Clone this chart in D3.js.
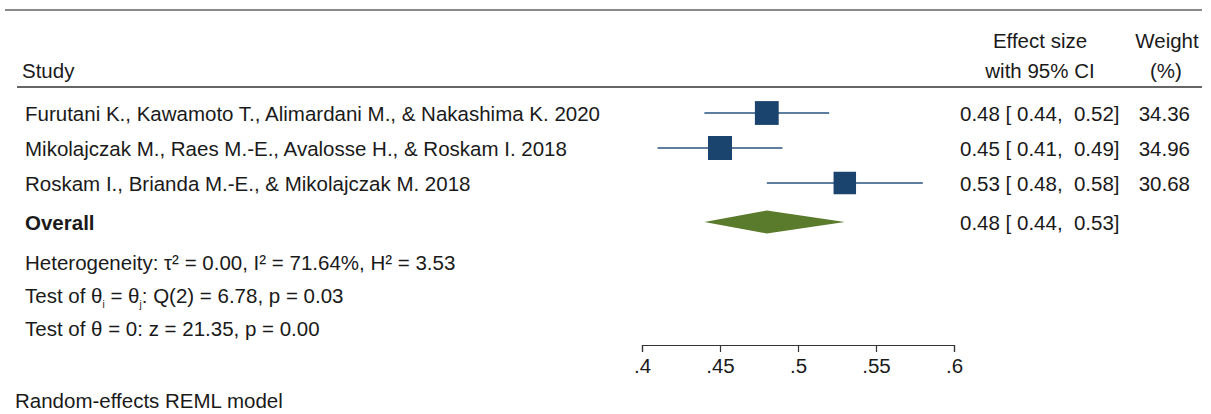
<!DOCTYPE html>
<html>
<head>
<meta charset="utf-8">
<script src="https://cdn.jsdelivr.net/npm/d3@7"></script>
<style>
  html, body { margin: 0; padding: 0; background: #fff; }
  svg { display: block; }
  text { font-family: "Liberation Sans", Arial, Helvetica, sans-serif; fill: #1a1a1a; }
</style>
</head>
<body>
<svg id="chart" width="1211" height="414"></svg>
<script>
// Study-level estimates (effect size, 95% CI bounds, weight %)
const studies = [
  "Furutani K., Kawamoto T., Alimardani M., & Nakashima K. 2020",
  "Mikolajczak M., Raes M.-E., Avalosse H., & Roskam I. 2018",
  "Roskam I., Brianda M.-E., & Mikolajczak M. 2018"
];
const effects = [0.48, 0.45, 0.53];
const lower   = [0.44, 0.41, 0.48];
const upper   = [0.52, 0.49, 0.58];
const weights = [34.36, 34.96, 30.68];

// Pooled random-effects estimate
const overallEffect = 0.48;
const overallLower  = 0.44;
const overallUpper  = 0.53;

const xTicks = [0.4, 0.45, 0.5, 0.55, 0.6];
const xTickLabels = [".4", ".45", ".5", ".55", ".6"];

const svg = d3.select("#chart");
const FS = 20.5;
const BASE = 7.5; // baseline offset from a row's centre line

const x = d3.scaleLinear().domain([0.4, 0.6]).range([642, 954]);
const rowY = d3.scalePoint().domain(d3.range(studies.length)).range([113, 183]);
const overallY = 222;

// square side driven by weight (area proportional to weight)
const side = d3.scaleSqrt().domain([0, d3.max(weights)]).range([0, 24]);

const fmt2 = d3.format(".2f");

// rules
svg.append("line").attr("x1", 5).attr("x2", 1202).attr("y1", 10).attr("y2", 10)
  .attr("stroke", "#8a8a8a").attr("stroke-width", 2);
svg.append("line").attr("x1", 17).attr("x2", 1202).attr("y1", 87).attr("y2", 87)
  .attr("stroke", "#333").attr("stroke-width", 1.5);

// headers
svg.append("text").attr("x", 22).attr("y", 70 + BASE).attr("font-size", FS).text("Study");
svg.append("text").attr("x", 1040).attr("y", 40 + BASE).attr("font-size", FS).attr("text-anchor", "middle").text("Effect size");
svg.append("text").attr("x", 1040).attr("y", 70 + BASE).attr("font-size", FS).attr("text-anchor", "middle").text("with 95% CI");
svg.append("text").attr("x", 1167).attr("y", 40 + BASE).attr("font-size", FS).attr("text-anchor", "middle").text("Weight");
svg.append("text").attr("x", 1166).attr("y", 70 + BASE).attr("font-size", FS).attr("text-anchor", "middle").text("(%)");

const ciText = (e, l, u) => `${fmt2(e)} [ ${fmt2(l)},  ${fmt2(u)}]`;

const rows = svg.append("g").selectAll("g").data(studies).join("g");
rows.append("text").attr("x", 25).attr("y", (d, i) => rowY(i) + BASE).attr("font-size", FS).text(d => d);
rows.append("line")
  .attr("x1", (d, i) => x(lower[i])).attr("x2", (d, i) => x(upper[i]))
  .attr("y1", (d, i) => rowY(i)).attr("y2", (d, i) => rowY(i))
  .attr("stroke", "#5e7e9f").attr("stroke-width", 2);
rows.append("rect")
  .attr("x", (d, i) => x(effects[i]) - side(weights[i]) / 2)
  .attr("y", (d, i) => rowY(i) - side(weights[i]) / 2)
  .attr("width", (d, i) => side(weights[i]))
  .attr("height", (d, i) => side(weights[i]))
  .attr("fill", "#1a436e");
rows.append("text").attr("x", 960).attr("y", (d, i) => rowY(i) + BASE).attr("font-size", FS)
  .attr("xml:space", "preserve").style("white-space", "pre")
  .text((d, i) => ciText(effects[i], lower[i], upper[i]));
rows.append("text").attr("x", 1190).attr("y", (d, i) => rowY(i) + BASE).attr("font-size", FS)
  .attr("text-anchor", "end").text((d, i) => fmt2(weights[i]));

// overall row
svg.append("text").attr("x", 25).attr("y", overallY + BASE).attr("font-size", FS)
  .attr("font-weight", "bold").text("Overall");
svg.append("path")
  .attr("d", `M${x(overallLower)},${overallY} L${x(overallEffect)},${overallY - 11.5} L${x(overallUpper)},${overallY} L${x(overallEffect)},${overallY + 11.5} Z`)
  .attr("fill", "#5a7a2c");
svg.append("text").attr("x", 960).attr("y", overallY + BASE).attr("font-size", FS)
  .attr("xml:space", "preserve").style("white-space", "pre")
  .text(ciText(overallEffect, overallLower, overallUpper));

// heterogeneity and tests
svg.append("text").attr("x", 25).attr("y", 262 + BASE).attr("font-size", FS)
  .text("Heterogeneity: \u03C4\u00B2 = 0.00, I\u00B2 = 71.64%, H\u00B2 = 3.53");
const t2 = svg.append("text").attr("x", 25).attr("y", 295 + BASE).attr("font-size", FS);
t2.append("tspan").text("Test of \u03B8");
t2.append("tspan").attr("font-size", 10).attr("dy", 5).text("i");
t2.append("tspan").attr("dy", -5).text(" = \u03B8");
t2.append("tspan").attr("font-size", 10).attr("dy", 5).text("j");
t2.append("tspan").attr("dy", -5).text(": Q(2) = 6.78, p = 0.03");
svg.append("text").attr("x", 25).attr("y", 328 + BASE).attr("font-size", FS)
  .text("Test of \u03B8 = 0: z = 21.35, p = 0.00");

// axis
const axis = d3.axisBottom(x).tickValues(xTicks).tickSize(7).tickSizeOuter(7)
  .tickFormat((d, i) => xTickLabels[i]);
const ag = svg.append("g").attr("transform", "translate(0,345)").call(axis);
ag.select(".domain").attr("stroke", "#333").attr("stroke-width", 1.2);
ag.selectAll(".tick line").attr("stroke", "#333").attr("stroke-width", 1.2);
ag.selectAll(".tick text").attr("font-size", FS).attr("font-family", "Liberation Sans, Arial, sans-serif")
  .attr("fill", "#1a1a1a").attr("dy", "0.9em");

// footnote
svg.append("text").attr("x", 15).attr("y", 400 + BASE).attr("font-size", FS).text("Random-effects REML model");
</script>
</body>
</html>
